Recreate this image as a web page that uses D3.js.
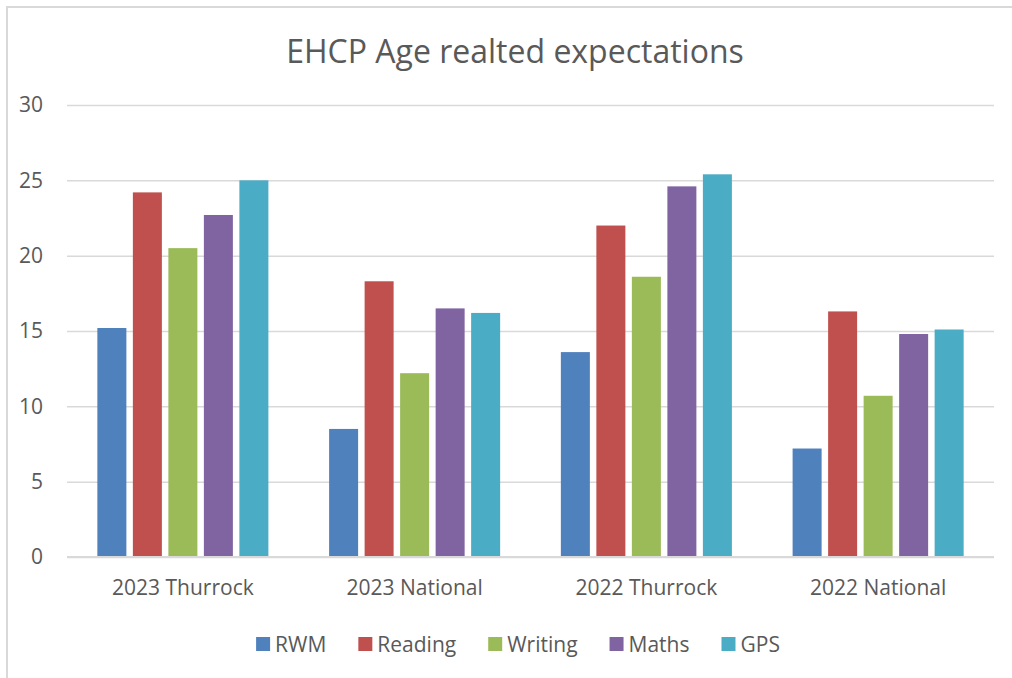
<!DOCTYPE html>
<html>
<head>
<meta charset="utf-8">
<script src="https://cdn.jsdelivr.net/npm/d3@7"></script>
<style>
  body { margin: 0; background: #fff; }
  svg { display: block; font-family: "Open Sans", sans-serif; }
</style>
</head>
<body>
<div id="chart"></div>
<script>
// data
const categories = ["2023 Thurrock", "2023 National", "2022 Thurrock", "2022 National"]
const seriesNames = ["RWM", "Reading", "Writing", "Maths", "GPS"]
const rwm = [15.2, 8.5, 13.6, 7.2]
const reading = [24.2, 18.3, 22.0, 16.3]
const writing = [20.5, 12.2, 18.6, 10.7]
const maths = [22.7, 16.5, 24.6, 14.8]
const gps = [25.0, 16.2, 25.4, 15.1]
const yTicks = [0, 5, 10, 15, 20, 25, 30]
const colours = ["#4F81BD", "#C0504D", "#9BBB59", "#8064A2", "#4BACC6"]

const seriesValues = [rwm, reading, writing, maths, gps]

const drawChart = () => {
    const width = 1012
    const height = 678
    const plot = { left: 67, right: 994, top: 105, bottom: 557 }
    const textColour = "#595959"
    const gridColour = "#D9D9D9"
    const labelSize = "21px"

    const svg = d3.select("#chart").append("svg")
        .attr("width", width)
        .attr("height", height)

    svg.append("rect")
        .attr("width", width).attr("height", height)
        .attr("fill", "#fff")

    // chart border (runs off the right and bottom edges)
    svg.append("rect")
        .attr("x", 7).attr("y", 7)
        .attr("width", width + 20).attr("height", height + 20)
        .attr("fill", "none")
        .attr("stroke", gridColour)
        .attr("stroke-width", 2)

    const x0 = d3.scaleBand()
        .domain(categories)
        .range([plot.left, plot.right])
        .paddingInner(0)
        .paddingOuter(0)

    const x1 = d3.scaleBand()
        .domain(seriesNames)
        .range([0, x0.bandwidth()])
        .paddingInner(0.183)
        .paddingOuter(0.855)

    const y = d3.scaleLinear()
        .domain([0, 30])
        .range([plot.bottom, plot.top])

    // gridlines + y labels
    const yAxis = svg.append("g")
        .attr("transform", `translate(${plot.left},0)`)
        .call(d3.axisLeft(y).tickValues(yTicks).tickSize(-(plot.right - plot.left)).tickPadding(24))
    yAxis.select(".domain").remove()
    yAxis.selectAll(".tick line")
        .attr("stroke", gridColour)
        .attr("stroke-width", 1.5)
    yAxis.selectAll(".tick text")
        .attr("fill", textColour)
        .attr("font-size", labelSize)
        .attr("font-family", "Open Sans, sans-serif")

    // bars
    const groups = svg.append("g").selectAll("g")
        .data(categories)
        .enter().append("g")
        .attr("transform", d => `translate(${x0(d)},0)`)

    groups.selectAll("rect")
        .data((c, ci) => seriesNames.map((s, si) => ({ series: s, idx: si, value: seriesValues[si][ci] })))
        .enter().append("rect")
        .attr("x", d => x1(d.series))
        .attr("y", d => y(d.value))
        .attr("width", x1.bandwidth())
        .attr("height", d => y(0) - y(d.value))
        .attr("fill", d => colours[d.idx])

    // base line
    svg.append("line")
        .attr("x1", plot.left).attr("x2", plot.right)
        .attr("y1", y(0)).attr("y2", y(0))
        .attr("stroke", gridColour)
        .attr("stroke-width", 2)

    // category labels
    const xAxis = svg.append("g")
        .attr("transform", `translate(0,${plot.bottom})`)
        .call(d3.axisBottom(x0).tickSize(0).tickPadding(23))
    xAxis.select(".domain").remove()
    xAxis.selectAll(".tick text")
        .attr("fill", textColour)
        .attr("font-size", labelSize)
        .attr("font-family", "Open Sans, sans-serif")

    // title
    svg.append("text")
        .attr("x", 515)
        .attr("y", 63)
        .attr("text-anchor", "middle")
        .attr("fill", textColour)
        .attr("font-size", "32px")
        .text("EHCP Age realted expectations")

    // legend
    const legend = svg.append("g")
    const items = legend.selectAll("g")
        .data(seriesNames)
        .enter().append("g")
    items.append("rect")
        .attr("width", 14).attr("height", 14)
        .attr("y", -15)
        .attr("fill", (d, i) => colours[i])
    items.append("text")
        .attr("x", 19)
        .attr("fill", textColour)
        .attr("font-size", labelSize)
        .text(d => d)
    const gap = 32
    let cursor = 0
    items.each(function () {
        const w = 19 + d3.select(this).select("text").node().getComputedTextLength()
        d3.select(this).attr("transform", `translate(${cursor},0)`)
        cursor += w + gap
    })
    const legendWidth = cursor - gap
    legend.attr("transform", `translate(${518 - legendWidth / 2},652)`)
}

drawChart()
</script>
</body>
</html>
